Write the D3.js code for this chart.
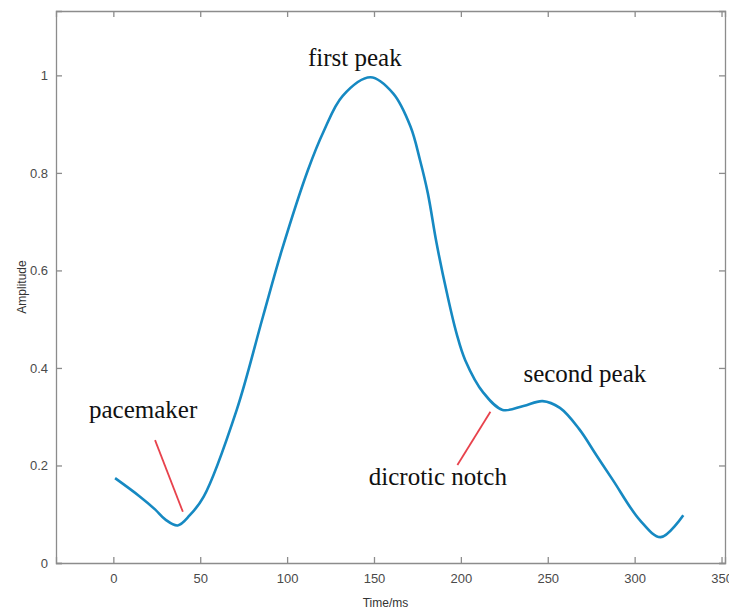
<!DOCTYPE html>
<html>
<head>
<meta charset="utf-8">
<script src="https://cdn.jsdelivr.net/npm/d3@7"></script>
<style>
  body { margin: 0; background: #fff; }
  svg { display: block; }
</style>
</head>
<body>
<svg id="chart"></svg>
<script>
// pulse waveform
const timeMs = [1, 15, 24, 30, 37, 44, 52, 71, 86, 97, 112, 121, 132, 148, 161, 171, 176.5, 181, 186, 192, 197.5, 202.5, 213, 224, 236, 247, 257, 268, 278, 287.5, 303, 315, 328];
const amplitude = [0.174, 0.137, 0.110, 0.089, 0.077, 0.098, 0.136, 0.314, 0.504, 0.642, 0.806, 0.885, 0.958, 0.996, 0.963, 0.895, 0.826, 0.758, 0.656, 0.553, 0.471, 0.416, 0.349, 0.314, 0.322, 0.332, 0.318, 0.275, 0.221, 0.170, 0.088, 0.053, 0.098];

const xTicks = [0, 50, 100, 150, 200, 250, 300, 350];
const yTicks = [0, 0.2, 0.4, 0.6, 0.8, 1];

// text labels and pointer lines (in data units)
const labels = [
  { text: "first peak", x: 112, y: 1.02 },
  { text: "pacemaker", x: -14, y: 0.297 },
  { text: "second peak", x: 236, y: 0.372 },
  { text: "dicrotic notch", x: 147, y: 0.160 }
];
const pointers = [
  { x1: 24, y1: 0.252, x2: 40, y2: 0.105 },
  { x1: 217, y1: 0.310, x2: 198, y2: 0.201 }
];

const W = 729, H = 612;
const margin = { top: 11, right: 4, bottom: 49, left: 56 };
const width = W - margin.left - margin.right;
const height = H - margin.top - margin.bottom;

const svg = d3.select("#chart").attr("width", W).attr("height", H);
const g = svg.append("g").attr("transform", `translate(${margin.left},${margin.top})`);

const x = d3.scaleLinear().domain([-33, 352]).range([0, width]);
const y = d3.scaleLinear().domain([0, 1.132]).range([height, 0]);

const axisColor = "#8c8c8c";
const tickFont = "13px 'Liberation Sans', Arial, sans-serif";

// bottom + top axes (ticks point inward)
const xb = g.append("g").attr("transform", `translate(0,${height})`)
  .call(d3.axisBottom(x).tickValues(xTicks).tickSize(-6).tickPadding(11).tickFormat(d3.format("d")));
const xt = g.append("g")
  .call(d3.axisTop(x).tickValues(xTicks).tickSize(-6).tickFormat(""));
const yl = g.append("g")
  .call(d3.axisLeft(y).tickValues(yTicks).tickSize(-6).tickPadding(8).tickFormat(d => d === 0 || d === 1 ? d : d.toFixed(1)));
const yr = g.append("g").attr("transform", `translate(${width},0)`)
  .call(d3.axisRight(y).tickValues(yTicks).tickSize(-6).tickFormat(""));

[xb, xt, yl, yr].forEach(a => {
  a.select(".domain").attr("stroke", axisColor).attr("stroke-width", 1.3);
  a.selectAll(".tick line").attr("stroke", axisColor).attr("stroke-width", 1.3);
  a.selectAll(".tick text").attr("fill", "#4a4a4a").style("font", tickFont);
});

// axis titles
svg.append("text")
  .attr("x", margin.left + width / 2 - 5).attr("y", 607)
  .attr("text-anchor", "middle")
  .style("font", "12px 'Liberation Sans', Arial, sans-serif")
  .attr("fill", "#333")
  .text("Time/ms");

svg.append("text")
  .attr("transform", `translate(26,${margin.top + height / 2}) rotate(-90)`)
  .attr("text-anchor", "middle")
  .style("font", "12px 'Liberation Sans', Arial, sans-serif")
  .attr("fill", "#333")
  .text("Amplitude");

// waveform
const line = d3.line()
  .x((d, i) => x(timeMs[i]))
  .y((d, i) => y(amplitude[i]))
  .curve(d3.curveCatmullRom.alpha(0.5));

g.append("path")
  .datum(amplitude)
  .attr("fill", "none")
  .attr("stroke", "#1689c2")
  .attr("stroke-width", 2.6)
  .attr("d", line);

// red pointers
g.selectAll(".pointer")
  .data(pointers)
  .enter()
  .append("line")
  .attr("class", "pointer")
  .attr("x1", d => x(d.x1)).attr("y1", d => y(d.y1))
  .attr("x2", d => x(d.x2)).attr("y2", d => y(d.y2))
  .attr("stroke", "#e8424c")
  .attr("stroke-width", 1.8);

// annotation text
g.selectAll(".label")
  .data(labels)
  .enter()
  .append("text")
  .attr("class", "label")
  .attr("x", d => x(d.x))
  .attr("y", d => y(d.y))
  .style("font", "25px 'Liberation Serif', 'Times New Roman', serif")
  .attr("fill", "#111")
  .text(d => d.text);
</script>
</body>
</html>
